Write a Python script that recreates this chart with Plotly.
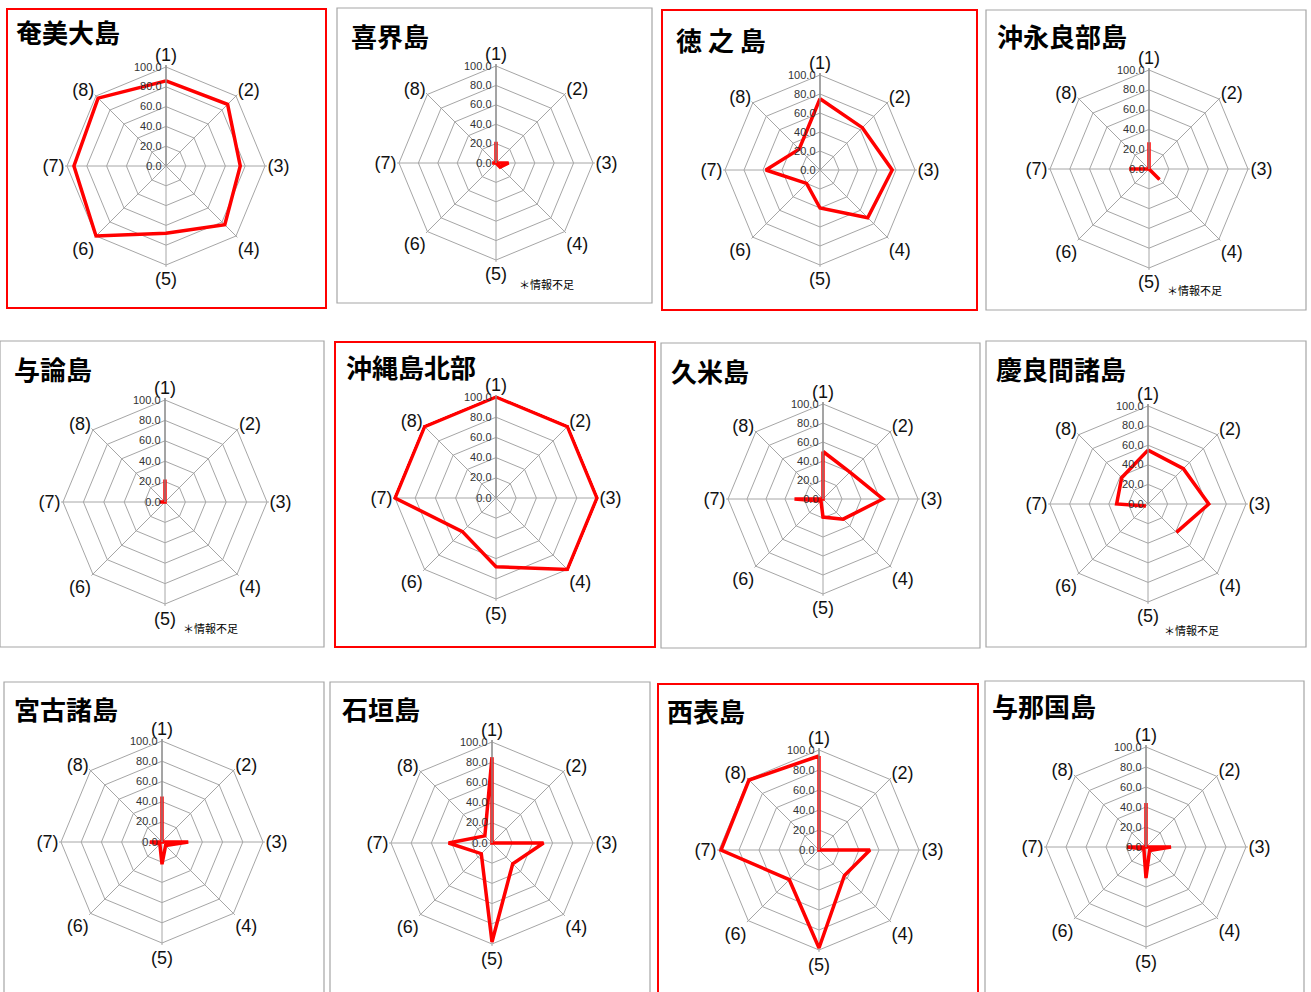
import plotly.graph_objects as go

W, H = 1311, 992

categories = ["(1)", "(2)", "(3)", "(4)", "(5)", "(6)", "(7)", "(8)"]
radial_ticks = [0, 20, 40, 60, 80, 100]
R_MAX = 102  # a little headroom so lines at 100 are not clipped

# Scores per island, items (1)..(8); None = no data
amami = [86, 88, 75, 84, 68, 100, 93, 97]
kikai = [22, 0, 13, 6, 0, 0, 4, 0]
tokunoshima = [75, 63, 76, 71, 40, 20, 57, 31]
okinoerabu = [27, 0, 0, 15, 0, 0, 20, 0]
yoron = [22, 0, 0, 0, 0, 0, 5, 0]
okinawa_north = [100, 100, 100, 100, 68, 47, 100, 100]
kume = [50, 40, 63, 30, 19, 3, 30, 0]
kerama = [55, 51, 62, 41, None, 3, 32, 38]
miyako = [45, 0, 26, 5, 22, 3, 12, 0]
ishigaki = [85, 0, 51, 29, 98, 15, 43, 10]
iriomote = [94, 0, 51, 36, 98, 42, 98, 99]
yonaguni = [44, 0, 25, 5, 31, 3, 19, 0]

names = ["奄美大島", "喜界島", "徳 之 島", "沖永良部島",
         "与論島", "沖縄島北部", "久米島", "慶良間諸島",
         "宮古諸島", "石垣島", "西表島", "与那国島"]
series = [amami, kikai, tokunoshima, okinoerabu,
          yoron, okinawa_north, kume, kerama,
          miyako, ishigaki, iriomote, yonaguni]
highlighted = [True, False, True, False,
               False, True, False, False,
               False, False, True, False]
insufficient = [False, True, False, True,
                True, False, False, True,
                False, False, False, False]

# Layout geometry in pixels: polar centre / radius of the 100 ring, frame box, title anchor
centers = [(166, 166, 99), (496, 163, 97), (820, 170, 95), (1149, 169, 99),
           (165, 502, 102), (496, 498, 101), (823, 499, 95), (1148, 504, 98),
           (162, 842, 101), (492, 843, 101), (819, 850, 100), (1146, 847, 100)]
boxes = [(7, 9, 326, 308), (337, 8, 652, 303), (662, 10, 977, 310), (986, 10, 1306, 310),
         (0, 341, 324, 647), (335, 342, 655, 647), (661, 343, 980, 648), (986, 341, 1306, 647),
         (4, 682, 324, 1010), (330, 682, 650, 1010), (658, 684, 978, 1010), (985, 681, 1304, 1010)]
titles_xy = [(14, 32), (349, 35), (674, 40), (995, 35),
             (12, 368), (344, 367), (669, 370), (994, 368),
             (12, 708), (340, 708), (665, 710), (990, 705)]
notes_xy = [None, (517, 284), None, (1165, 290),
            (181, 628), None, None, (1162, 630),
            None, None, None, None]

fig = go.Figure()
shapes = []
annotations = []

for i, (name, vals) in enumerate(zip(names, series)):
    pid = "polar" if i == 0 else f"polar{i + 1}"
    cx, cy, R = centers[i]
    Rd = R * R_MAX / 100
    fig.add_trace(go.Scatterpolar(
        r=vals + [vals[0]],
        theta=categories + [categories[0]],
        mode="lines",
        line=dict(color="#FF0000", width=3.5),
        connectgaps=False,
        cliponaxis=False,
        subplot=pid,
        showlegend=False,
        hoverinfo="skip",
    ))
    fig.layout[pid] = dict(
        domain=dict(x=[(cx - Rd) / W, (cx + Rd) / W],
                    y=[1 - (cy + Rd) / H, 1 - (cy - Rd) / H]),
        gridshape="linear",
        bgcolor="white",
        angularaxis=dict(
            categoryorder="array", categoryarray=categories,
            direction="clockwise", rotation=90,
            gridcolor="#A6A6A6", gridwidth=1,
            showline=False,
            ticks="", tickfont=dict(family="Liberation Sans", size=18, color="#111"),
        ),
        radialaxis=dict(
            range=[0, R_MAX], tickvals=radial_ticks, tickformat=".1f",
            angle=90, tickangle=90, side="counterclockwise",
            gridcolor="#A6A6A6", gridwidth=1,
            linecolor="#8C8C8C", linewidth=1.3, showline=True,
            ticks="", tickfont=dict(family="Liberation Sans", size=11, color="#333"),
        ),
    )
    x0, y0, x1, y1 = boxes[i]
    shapes.append(dict(
        type="rect", xref="paper", yref="paper",
        x0=x0 / W, x1=x1 / W, y0=1 - y1 / H, y1=1 - y0 / H,
        line=dict(color="#FF0000" if highlighted[i] else "#A6A6A6",
                  width=2 if highlighted[i] else 1.2),
        fillcolor="rgba(0,0,0,0)", layer="below",
    ))
    tx, ty = titles_xy[i]
    annotations.append(dict(
        text=f"<b>{name}</b>", x=tx / W, y=1 - ty / H,
        xref="paper", yref="paper", xanchor="left", yanchor="middle",
        showarrow=False,
        font=dict(family="Noto Sans CJK JP", size=26, color="#000"),
    ))
    if insufficient[i]:
        nx, ny = notes_xy[i]
        annotations.append(dict(
            text="＊情報不足", x=nx / W, y=1 - ny / H,
            xref="paper", yref="paper", xanchor="left", yanchor="middle",
            showarrow=False,
            font=dict(family="Noto Sans CJK JP", size=11, color="#000"),
        ))

fig.update_layout(
    width=W, height=H,
    margin=dict(l=0, r=0, t=0, b=0),
    paper_bgcolor="white",
    plot_bgcolor="white",
    shapes=shapes,
    annotations=annotations,
)

fig.write_html("out.html")
